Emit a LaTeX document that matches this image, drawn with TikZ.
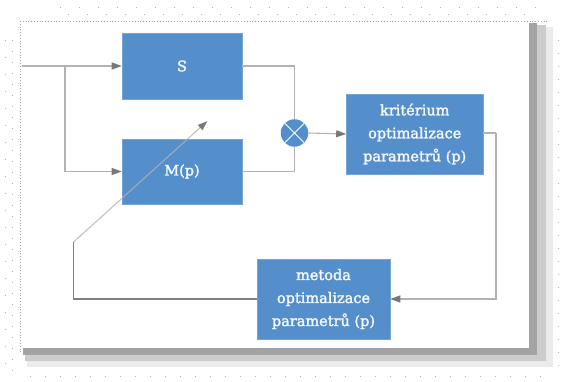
\documentclass[tikz,border=0pt]{standalone}
\usepackage{fontspec}
\setmainfont{DejaVu Serif}
\newfontfamily\boxfont[FakeBold=2]{DejaVu Serif}
\usetikzlibrary{arrows.meta}
\definecolor{boxblue}{RGB}{84,142,203}
\definecolor{linegray}{RGB}{178,178,178}
\definecolor{tipgray}{RGB}{120,120,120}
\tikzset{
  blockbox/.style={draw=boxblue!80!white, line width=0.6pt, fill=boxblue, text=white!94!boxblue,
    font=\boxfont\fontsize{14.5}{23}\selectfont, align=center, inner sep=0pt},
  conn/.style={draw=linegray, line width=1.1pt},
  arrowconn/.style={conn, -{Triangle[length=10pt,width=7pt,color=tipgray]}},
  darkconn/.style={draw=black!50, line width=1.4pt},
}
\begin{document}
\begin{tikzpicture}[x=1pt,y=-1pt]
\useasboundingbox (0,0) rectangle (563,382);
% frame and shadow
\fill[black!8] (27,27) rectangle (553,367);
\fill[black!20] (25,25) rectangle (546,361);
\fill[black!36] (23,23) rectangle (537,355);
\fill[white] (20,21) rectangle (529,348);
\draw[black!35, dotted, line width=0.8pt] (20,21) -- (548,21);
\draw[black!35, dotted, line width=0.8pt] (20,21) -- (20,352);
\draw[black!30, line width=0.8pt, dash pattern=on 1pt off 18pt] (60,7) -- (540,7);
\draw[black!30, line width=0.8pt, dash pattern=on 1pt off 18pt] (68,14) -- (540,14);
\draw[black!30, line width=0.8pt, dash pattern=on 1pt off 16pt] (5,40) -- (5,372);
\draw[black!30, line width=0.8pt, dash pattern=on 1pt off 10pt] (12,40) -- (12,372);
\draw[black!30, line width=0.8pt, dash pattern=on 1pt off 14pt] (30,376) -- (555,376);
\draw[black!30, line width=0.8pt, dash pattern=on 1pt off 12pt] (558,40) -- (558,370);

% blocks
\node[blockbox, minimum width=120pt, minimum height=66pt] (S) at (182,66) {S};
\node[blockbox, minimum width=120pt, minimum height=65pt] (M) at (182,171.5) {M(p)};
\node[blockbox, minimum width=136.5pt, minimum height=80pt] (K) at (414.75,134) {kritérium\\optimalizace\\parametrů (p)};
\node[blockbox, minimum width=133pt, minimum height=80pt] (Me) at (323.5,299) {metoda\\optimalizace\\parametrů (p)};
\node[circle, fill=boxblue, minimum size=27.5pt, inner sep=0pt] (X) at (294.5,133) {};
\draw[white, line width=0.9pt] (X.north west) -- (X.south east) (X.north east) -- (X.south west);

% connectors
\coordinate (in) at (22,66);
\coordinate (br) at (65,66);
\coordinate (kk) at (496,133);
\coordinate (fb) at (73.6,242);
\coordinate (tip) at (207.5,121);
\draw[arrowconn] (in) -- (S.west);
\draw[arrowconn] (br) |- (M.west);
\draw[conn] (S.east) -| (X.north);
\draw[conn] (M.east) -| (X.south);
\draw[arrowconn] (X.east) -- (K.west);
\draw[conn] (K.east |- X.east) -- (kk);
\draw[arrowconn] (kk) |- (Me.east);
\draw[darkconn] (Me.west) -| (fb);
\draw[arrowconn, draw opacity=0.8] (fb) -- (tip);
\end{tikzpicture}
\end{document}
